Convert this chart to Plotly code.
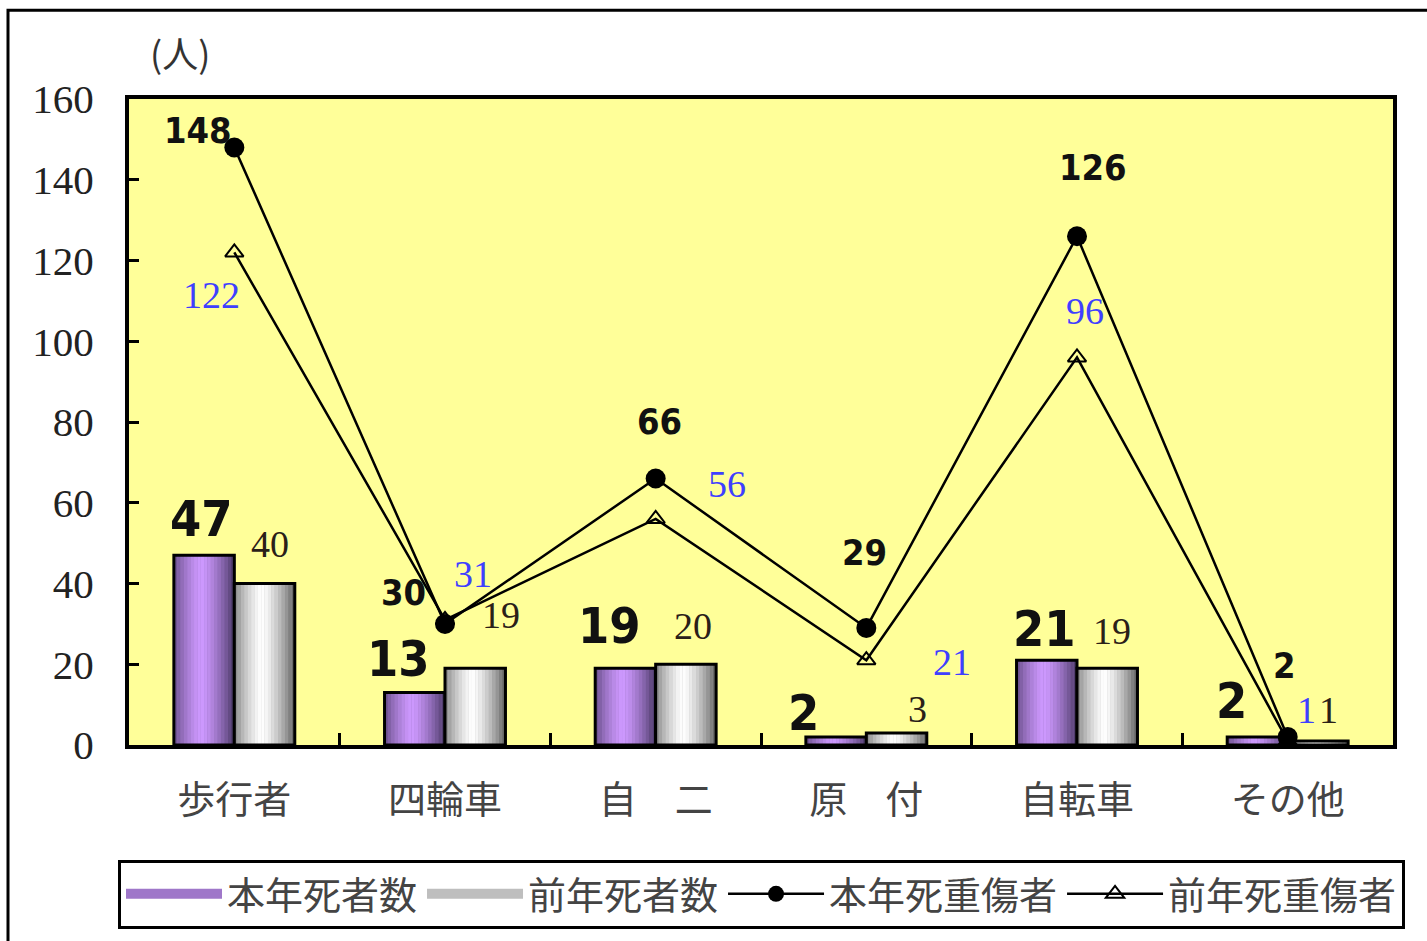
import plotly.graph_objects as go

# ---------------- data ----------------
categories = ["歩行者", "四輪車", "自　二", "原　付", "自転車", "その他"]
deaths_this_year = [47, 13, 19, 2, 21, 2]          # 本年死者数
deaths_last_year = [40, 19, 20, 3, 19, 1]          # 前年死者数
serious_this_year = [148, 30, 66, 29, 126, 2]      # 本年死重傷者
serious_last_year = [122, 31, 56, 21, 96, 1]       # 前年死重傷者
y_ticks = [0, 20, 40, 60, 80, 100, 120, 140, 160]

# ---------------- label placement (style, pixels) ----------------
lab_dt_dx = [-33, -47, -46, -63, -33, -56]
lab_dt_dy = [36, 34, 42, 24, 31, 36]
lab_dl_dx = [36, 56, 37, 51, 35, 41]
lab_dl_dy = [40, 53, 38, 24, 37, 31]
lab_st_dx = [-36, -42, 4, -2, 16, -3]
lab_st_dy = [17, 31, 57, 75, 69, 71]
lab_sl_dx = [-23, 28, 71, 86, 8, 19]
lab_sl_dy = [-43, 46, 35, -2, 46, 31]

BAR_W = 0.287
N_STRIPES = 18
PURPLE_EDGE, PURPLE_MID = (72, 55, 100), (206, 153, 255)
GRAY_EDGE, GRAY_MID = (95, 95, 95), (255, 255, 255)


def mix(c1, c2, b):
    return "rgb(%d,%d,%d)" % tuple(round(a + (c - a) * b) for a, c in zip(c1, c2))


def shade(t):
    d = abs(t - 0.45) / 0.55
    return max(0.0, 1.0 - d ** 1.4)


fig = go.Figure()

# legend entries for the bar series (thick swatches)
fig.add_trace(go.Scatter(x=[None], y=[None], mode="lines", name="本年死者数",
                         line=dict(color=mix(PURPLE_EDGE, PURPLE_MID, 0.65), width=16)))
fig.add_trace(go.Scatter(x=[None], y=[None], mode="lines", name="前年死者数",
                         line=dict(color="rgb(190,190,190)", width=16)))


def gradient_bar(values, offset, edge, center):
    fig.add_trace(go.Bar(
        x=categories, y=values, width=BAR_W, offset=offset,
        marker=dict(color=mix(edge, center, 0.6), line=dict(width=0)),
        showlegend=False, hoverinfo="skip"))
    sw = BAR_W / N_STRIPES
    for i in range(N_STRIPES):
        t = (i + 0.5) / N_STRIPES
        fig.add_trace(go.Bar(
            x=categories, y=values, width=sw * 1.02, offset=offset + i * sw,
            marker=dict(color=mix(edge, center, shade(t)), line=dict(width=0)),
            showlegend=False, hoverinfo="skip"))
    fig.add_trace(go.Bar(
        x=categories, y=values, width=BAR_W, offset=offset,
        marker=dict(color="rgba(0,0,0,0)", line=dict(color="black", width=3)),
        showlegend=False, hoverinfo="skip"))


gradient_bar(deaths_this_year, -BAR_W, PURPLE_EDGE, PURPLE_MID)
gradient_bar(deaths_last_year, 0.0, GRAY_EDGE, GRAY_MID)

fig.add_trace(go.Scatter(
    x=categories, y=serious_this_year, mode="lines+markers", name="本年死重傷者",
    line=dict(color="black", width=2.5),
    marker=dict(symbol="circle", size=20, color="black")))
fig.add_trace(go.Scatter(
    x=categories, y=serious_last_year, mode="lines+markers", name="前年死重傷者",
    line=dict(color="black", width=2.5),
    marker=dict(symbol="triangle-up-open", size=16, color="black", line=dict(width=2))))

narrow = "Liberation Sans Narrow, DejaVu Sans Condensed, Arial Narrow, sans-serif"
serif = "Liberation Serif, Times New Roman, serif"


def label(c, v, dx, dy, font):
    return dict(x=c, y=v, text=str(v), xshift=dx, yshift=dy, font=font,
                xref="x", yref="y", showarrow=False, xanchor="center", yanchor="middle")


annotations = []
for i, c in enumerate(categories):
    annotations.append(label(c, deaths_this_year[i], lab_dt_dx[i], lab_dt_dy[i],
                             dict(family=narrow, size=50, color="#111", weight="bold")))
    annotations.append(label(c, deaths_last_year[i], lab_dl_dx[i], lab_dl_dy[i],
                             dict(family=serif, size=38, color="#2a2018")))
    annotations.append(label(c, serious_this_year[i], lab_st_dx[i], lab_st_dy[i],
                             dict(family=narrow, size=36, color="#111", weight="bold")))
    annotations.append(label(c, serious_last_year[i], lab_sl_dx[i], lab_sl_dy[i],
                             dict(family=serif, size=38, color="#3f3fff")))

annotations.append(dict(xref="paper", yref="paper", x=0.040, y=1.0725, text="(人)",
                        showarrow=False, xanchor="center", yanchor="middle",
                        font=dict(family="Noto Sans CJK JP", size=36, color="#333")))

L, R, T, B = 129, 34, 99, 194
PW, PH = 1427 - L - R, 941 - T - B

fig.update_layout(
    width=1427, height=941,
    margin=dict(l=L, r=R, t=T, b=B, pad=0),
    paper_bgcolor="white", plot_bgcolor="#ffff99",
    barmode="overlay",
    annotations=annotations,
    showlegend=True,
    legend=dict(orientation="h", x=(118 - L) / PW, y=(941 - B - 862) / PH,
                xanchor="left", yanchor="top",
                bgcolor="white", bordercolor="black", borderwidth=3,
                font=dict(family="Noto Sans CJK JP", size=38, color="#444"),
                itemwidth=96, traceorder="normal", tracegroupgap=0),
    xaxis=dict(type="category", range=[-0.5, 5.5], showline=True, linecolor="black",
               linewidth=4, mirror=True, ticks="inside", tickson="boundaries",
               ticklen=12, tickwidth=3, tickcolor="black", showgrid=False,
               tickfont=dict(family="Noto Sans CJK JP", size=38, color="#444"),
               ticklabelstandoff=18),
    yaxis=dict(range=[0, 160], tickvals=y_ticks, showline=True, linecolor="black",
               linewidth=4, mirror=True, ticks="inside", ticklen=10, tickwidth=3,
               tickcolor="black", showgrid=False, zeroline=False,
               tickfont=dict(family=serif, size=41, color="#222"),
               ticklabelstandoff=23),
    shapes=[dict(type="rect", xref="paper", yref="paper",
                 x0=(8 - L) / PW, x1=(1460 - L) / PW,
                 y0=(941 - B - 960) / PH, y1=(941 - B - 10) / PH,
                 line=dict(color="black", width=3), fillcolor="rgba(0,0,0,0)",
                 layer="below")],
)

fig.write_html("out.html")
